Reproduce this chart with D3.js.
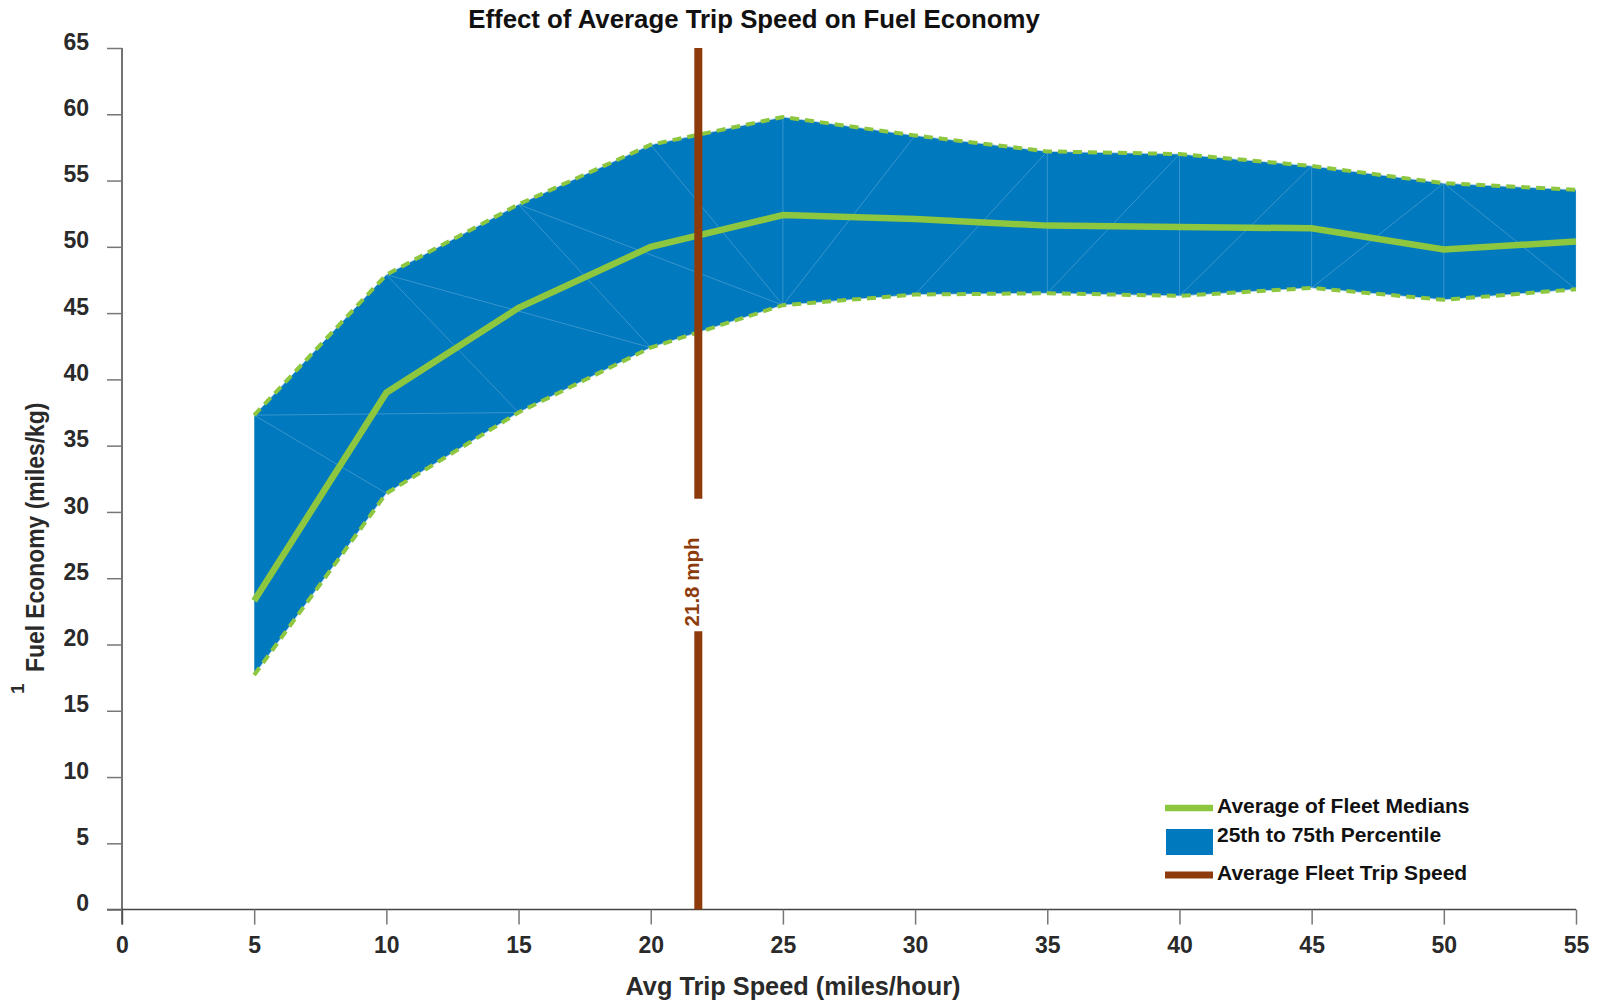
<!DOCTYPE html>
<html><head><meta charset="utf-8">
<script src="https://cdn.jsdelivr.net/npm/d3@7"></script>
<style>
body{margin:0;background:#fff}
text{font-family:"Liberation Sans",Arial,Helvetica,sans-serif;font-weight:bold}
</style>
</head><body>
<svg id="c" width="1597" height="1004"></svg>
<script>
// ---- data ----
const speeds = [5, 10, 15, 20, 25, 30, 35, 40, 45, 50, 55];
const p75    = [37.3, 47.9, 53.2, 57.7, 59.8, 58.4, 57.2, 57.0, 56.1, 54.8, 54.3];
const median = [23.3, 39.0, 45.4, 50.0, 52.4, 52.1, 51.6, 51.5, 51.4, 49.8, 50.4];
const p25    = [17.7, 31.4, 37.5, 42.4, 45.6, 46.4, 46.5, 46.3, 46.9, 46.0, 46.8];
const avgFleetSpeed = 21.8;
const speedLabelGap = [21, 31];
const xTickValues = [0, 5, 10, 15, 20, 25, 30, 35, 40, 45, 50, 55];
const yTickValues = [0, 5, 10, 15, 20, 25, 30, 35, 40, 45, 50, 55, 60, 65];
// triangulation seams of the shaded band: [edgeA, indexA, edgeB, indexB]
const meshEdges = [
  ["u",0,"l",0],["u",0,"l",1],["u",0,"l",2],["u",1,"l",2],["u",1,"l",3],["u",2,"l",3],
  ["u",2,"l",4],["u",3,"l",4],["u",4,"l",4],["l",4,"u",5],["l",5,"u",6],["u",6,"l",6],
  ["l",6,"u",7],["u",7,"l",7],["l",7,"u",8],["u",8,"l",8],["l",8,"u",9],["u",9,"l",9],
  ["u",9,"l",10],["u",10,"l",10]
];
const legendItems = ["Average of Fleet Medians", "25th to 75th Percentile", "Average Fleet Trip Speed"];
const titleText = "Effect of Average Trip Speed on Fuel Economy";
const xTitle = "Avg Trip Speed (miles/hour)";
const yTitle = "Fuel Economy (miles/kg)";

// ---- drawing ----
const svg = d3.select("#c");
const x = d3.scaleLinear().domain([0, 55]).range([122, 1576]);
const y = d3.scaleLinear().domain([0, 65]).range([909.6, 48]);
const BLUE = "#0079be", GREEN = "#8dc63f", BROWN = "#8e3b0c";

const rows = speeds.map((s, i) => ({s, hi: p75[i], mid: median[i], lo: p25[i]}));

// band
svg.append("path").datum(rows)
  .attr("d", d3.area().x(d => x(d.s)).y0(d => y(d.lo)).y1(d => y(d.hi)))
  .attr("fill", BLUE);

// mesh seams
const pt = (e, i) => [x(speeds[i]), y(e === "u" ? p75[i] : p25[i])];
svg.append("g").selectAll("line").data(meshEdges).join("line")
  .attr("x1", d => pt(d[0], d[1])[0]).attr("y1", d => pt(d[0], d[1])[1])
  .attr("x2", d => pt(d[2], d[3])[0]).attr("y2", d => pt(d[2], d[3])[1])
  .attr("stroke", "rgba(200,225,245,0.35)").attr("stroke-width", 0.8);

// dashed edges
const edgeLine = key => d3.line().x(d => x(d.s)).y(d => y(d[key]));
["hi", "lo"].forEach(k => {
  svg.append("path").datum(rows).attr("d", edgeLine(k))
    .attr("fill", "none").attr("stroke", "rgba(190,215,235,0.8)").attr("stroke-width", 1);
  svg.append("path").datum(rows).attr("d", edgeLine(k))
    .attr("fill", "none").attr("stroke", GREEN).attr("stroke-width", 4)
    .attr("stroke-dasharray", "9,6");
});

// median
svg.append("path").datum(rows).attr("d", edgeLine("mid"))
  .attr("fill", "none").attr("stroke", GREEN).attr("stroke-width", 6.5)
  .attr("stroke-linejoin", "miter");

// axes
const gx = svg.append("g").attr("transform", `translate(0,${y(0)})`)
  .call(d3.axisBottom(x).tickValues(xTickValues).tickSize(15).tickSizeOuter(0).tickFormat(d3.format("d")));
const gy = svg.append("g").attr("transform", `translate(${x(0)},0)`)
  .call(d3.axisLeft(y).tickValues(yTickValues).tickSize(15).tickSizeOuter(0).tickFormat(d3.format("d")));
[gx, gy].forEach(g => {
  g.select(".domain").attr("stroke", "#444").attr("stroke-width", 1.5);
  g.selectAll(".tick line").attr("stroke", "#777").attr("stroke-width", 1.5);
  g.selectAll(".tick text").attr("fill", "#2a2a2a").style("font-size", "23px")
    .style("font-family", "'Liberation Sans',Arial,sans-serif").style("font-weight", "bold");
});
gx.select(".domain").attr("d", `M${x(0)-15},0H${x(55)}`);
gx.selectAll(".tick text").attr("y", 43).attr("dy", 0);
gy.selectAll(".tick text").attr("x", -33).attr("dy", "0.05em");
gy.select(".domain").attr("d", `M0,${y(65)}V${y(0)+15}`);

// average speed line
[[0, speedLabelGap[0]], [speedLabelGap[1], 65]].forEach(r => {
  svg.append("line").attr("x1", x(avgFleetSpeed)).attr("x2", x(avgFleetSpeed))
    .attr("y1", y(r[0])).attr("y2", y(r[1]))
    .attr("stroke", BROWN).attr("stroke-width", 8);
});
svg.append("text")
  .attr("transform", `translate(${x(avgFleetSpeed) + 1},${y(d3.mean(speedLabelGap)) + 17}) rotate(-90)`)
  .attr("text-anchor", "middle").attr("fill", BROWN).style("font-size", "20.5px")
  .text(avgFleetSpeed + " mph");

// titles
svg.append("text").attr("x", 754).attr("y", 28).attr("text-anchor", "middle")
  .attr("fill", "#111").style("font-size", "25.8px").text(titleText);
svg.append("text").attr("x", 793).attr("y", 995).attr("text-anchor", "middle")
  .attr("fill", "#2a2a2a").style("font-size", "25.3px").text(xTitle);
svg.append("text").attr("transform", "translate(44,672) rotate(-90) scale(0.915,1)")
  .attr("fill", "#2a2a2a").style("font-size", "25px").text(yTitle);
svg.append("text").attr("transform", "translate(24,694) rotate(-90)")
  .attr("fill", "#2a2a2a").style("font-size", "19px").text("1");

// legend
const lg = svg.append("g");
lg.append("line").attr("x1", 1165).attr("x2", 1213).attr("y1", 808).attr("y2", 808)
  .attr("stroke", GREEN).attr("stroke-width", 6.5);
lg.append("rect").attr("x", 1166).attr("y", 829).attr("width", 47).attr("height", 26).attr("fill", BLUE);
lg.append("line").attr("x1", 1165).attr("x2", 1213).attr("y1", 875).attr("y2", 875)
  .attr("stroke", BROWN).attr("stroke-width", 7);
lg.selectAll("text.li").data(legendItems).join("text").attr("class", "li")
  .attr("x", 1217).attr("y", (d, i) => [813, 842, 880][i])
  .attr("fill", "#111").style("font-size", "21px").text(d => d);
</script>
</body></html>
